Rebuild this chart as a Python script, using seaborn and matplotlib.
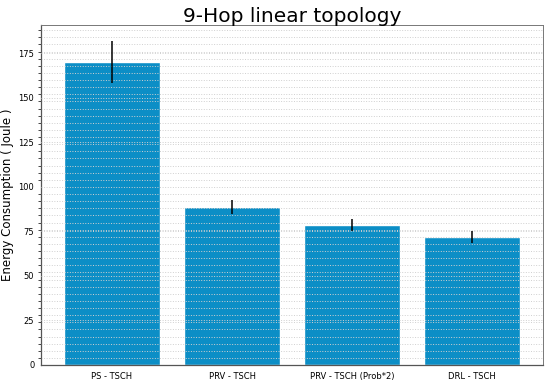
import matplotlib
matplotlib.use("Agg")
import matplotlib.pyplot as plt
import seaborn as sns
from matplotlib.ticker import MultipleLocator

# values
methods = ["PS - TSCH", "PRV - TSCH", "PRV - TSCH (Prob*2)", "DRL - TSCH"]
energy = [170.3, 88.6, 78.6, 72.0]
energy_err = [11.9, 4.0, 3.5, 3.3]

sns.set_style("white")
plt.rcParams["text.color"] = "black"
plt.rcParams["axes.labelcolor"] = "black"
plt.rcParams["xtick.color"] = "black"
plt.rcParams["ytick.color"] = "black"

fig, ax = plt.subplots(figsize=(5.5, 3.83), dpi=100)
fig.subplots_adjust(left=0.075, right=0.987, top=0.935, bottom=0.047)

sns.barplot(x=methods, y=energy, color="#0c8ec6", saturation=1, width=0.8,
            errorbar=None, ax=ax, zorder=2)
ax.errorbar(methods, energy, yerr=energy_err, fmt="none", ecolor="black",
            elinewidth=1.1, capsize=0, zorder=4)

ax.margins(x=0.05)
ax.yaxis.set_major_locator(MultipleLocator(25))
ax.yaxis.set_minor_locator(MultipleLocator(4))
ax.set_ylim(0, 191)
ax.grid(axis="y", which="major", color="#d0d0d0", linestyle=":", linewidth=0.7, zorder=3)
ax.grid(axis="y", which="minor", color="#d0d0d0", linestyle=":", linewidth=0.7, zorder=3)
ax.set_axisbelow(False)

ax.tick_params(axis="both", which="major", labelsize=6, length=3, width=0.6, pad=2)
ax.tick_params(axis="y", which="minor", length=2, width=0.5, left=True)
for side in ["left", "bottom"]:
    ax.spines[side].set_color("#555555")
    ax.spines[side].set_linewidth(0.9)
for side in ["top", "right"]:
    ax.spines[side].set_color("#777777")
    ax.spines[side].set_linewidth(0.7)

ax.set_ylabel("Energy Consumption ( Joule )", fontsize=8.5, labelpad=3)
ax.set_title("9-Hop linear topology", fontsize=14.5, pad=2)

fig.savefig("out.png", dpi=100)
